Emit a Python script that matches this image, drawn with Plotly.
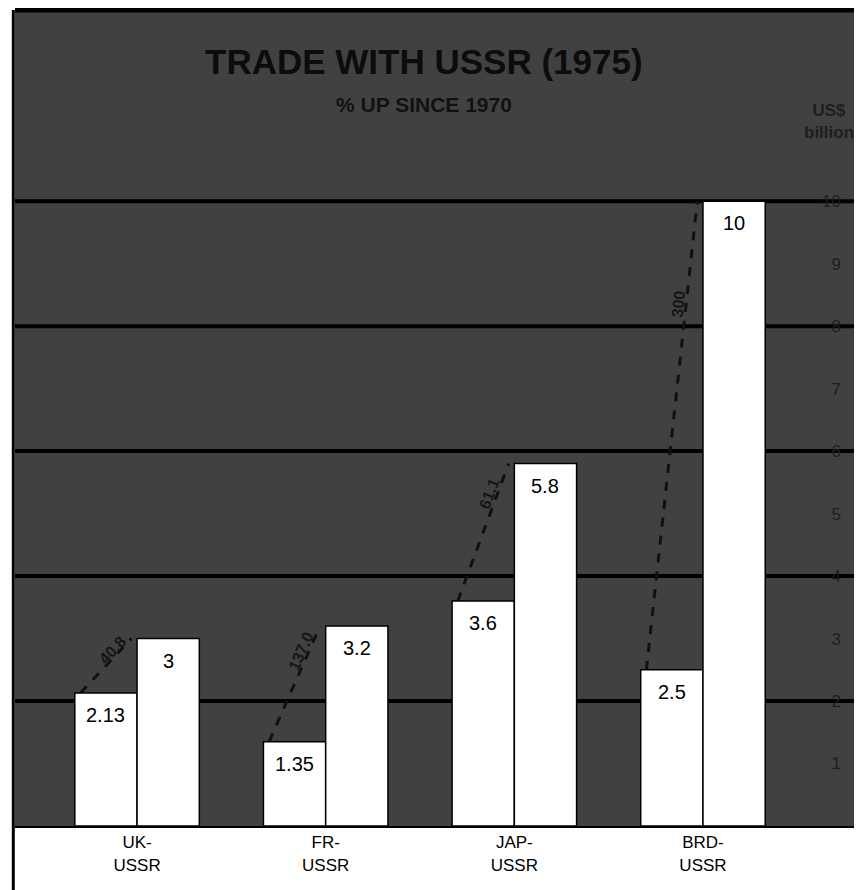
import math
import plotly.graph_objects as go

# ---- data ----
CATEGORIES = ["UK-<br>USSR", "FR-<br>USSR", "JAP-<br>USSR", "BRD-<br>USSR"]
TRADE_1970 = [2.13, 1.35, 3.6, 2.5]
TRADE_1975 = [3, 3.2, 5.8, 10]
LABELS_1970 = ["2.13", "1.35", "3.6", "2.5"]
LABELS_1975 = ["3", "3.2", "5.8", "10"]
PCT_LABELS = ["40.8", "137.0", "61.1", "300"]
Y_TICKS = [1, 2, 3, 4, 5, 6, 7, 8, 9, 10]
GRID_LINES = [2, 4, 6, 8, 10]

TITLE = "TRADE WITH USSR (1975)"
SUBTITLE = "% UP SINCE 1970"
UNIT = "US$<br>billion"

# ---- layout geometry (page is offset by the 8px body margin) ----
PAGE_W, PAGE_H = 862, 890
OFF = 8
W, H = PAGE_W - OFF, PAGE_H - OFF
PLOT_LEFT, PLOT_TOP, PLOT_BOTTOM = 15, 10, 826  # page pixels
ML, MT, MR = PLOT_LEFT - OFF, PLOT_TOP - OFF, 0
MB = H - (PLOT_BOTTOM - OFF)
PW, PH = W - ML - MR, H - MT - MB
X_RANGE = [-0.647, 3.843]
Y_RANGE = [0, 13.06]
BAR_W = 0.33
BG = "#414141"


def paper_x(px):
    return (px - PLOT_LEFT) / PW


def paper_y(py):
    return (PLOT_BOTTOM - py) / PH


idx = list(range(len(CATEGORIES)))
px_x = PW / (X_RANGE[1] - X_RANGE[0])
px_y = PH / (Y_RANGE[1] - Y_RANGE[0])

fig = go.Figure()
fig.add_trace(go.Bar(x=idx, y=TRADE_1970, width=BAR_W, offset=-BAR_W,
                     marker=dict(color="white", line=dict(color="black", width=1.5)),
                     hoverinfo="skip", showlegend=False))
fig.add_trace(go.Bar(x=idx, y=TRADE_1975, width=BAR_W, offset=0,
                     marker=dict(color="white", line=dict(color="black", width=1.5)),
                     hoverinfo="skip", showlegend=False))

shapes = []
annotations = []

# gridlines
for g in GRID_LINES:
    shapes.append(dict(type="line", xref="paper", x0=0, x1=1, yref="y", y0=g, y1=g,
                       line=dict(color="black", width=4), layer="below"))
# top border and left border
shapes.append(dict(type="line", xref="paper", x0=0, x1=1, yref="paper", y0=1, y1=1,
                   line=dict(color="black", width=5), layer="above"))
shapes.append(dict(type="line", xref="paper", x0=-0.002, x1=-0.002, yref="paper",
                   y0=-MB / PH, y1=1,
                   line=dict(color="black", width=3), layer="above"))

# value labels inside bars
for i in idx:
    annotations.append(dict(x=i - BAR_W / 2, y=TRADE_1970[i], xref="x", yref="y",
                            text=LABELS_1970[i], showarrow=False, yanchor="top", yshift=-9,
                            font=dict(family="Liberation Sans, Arial", size=20, color="black")))
    annotations.append(dict(x=i + BAR_W / 2, y=TRADE_1975[i], xref="x", yref="y",
                            text=LABELS_1975[i], showarrow=False, yanchor="top", yshift=-9,
                            font=dict(family="Liberation Sans, Arial", size=20, color="black")))

# dashed growth lines with rotated % labels
for i in idx:
    x0, y0 = i - BAR_W + 0.03, TRADE_1970[i]
    x1, y1 = i - 0.03, TRADE_1975[i]
    shapes.append(dict(type="line", xref="x", yref="y", x0=x0, y0=y0, x1=x1, y1=y1,
                       line=dict(color="#111111", width=3, dash="dash"), layer="below"))
    dx = (x1 - x0) * px_x
    dy = (y1 - y0) * px_y
    ang = -math.degrees(math.atan2(dy, dx))
    t = 0.78
    annotations.append(dict(x=x0 + t * (x1 - x0), y=y0 + t * (y1 - y0), xref="x", yref="y",
                            text=PCT_LABELS[i], showarrow=False, textangle=ang,
                            xshift=-8,
                            font=dict(family="Liberation Sans, Arial",
                                      size=16, color="#161616", weight="bold")))

# title, subtitle and unit
annotations.append(dict(x=paper_x(424), y=paper_y(61), xref="paper", yref="paper",
                        text=TITLE, showarrow=False, xanchor="center", yanchor="middle",
                        font=dict(family="Liberation Sans, Arial",
                                  size=35, color="#0c0c0c", weight="bold")))
annotations.append(dict(x=paper_x(424), y=paper_y(104), xref="paper", yref="paper",
                        text=SUBTITLE, showarrow=False, xanchor="center", yanchor="middle",
                        font=dict(family="Liberation Sans, Arial", size=21, color="#111111",
                                  weight="bold")))
annotations.append(dict(x=1.0, y=paper_y(122), xref="paper", yref="paper",
                        text=UNIT, showarrow=False, xanchor="right", yanchor="middle",
                        align="center", xshift=-6,
                        font=dict(family="Liberation Sans, Arial", size=17, color="#1e1e1e",
                                  weight="bold")))

fig.update_layout(
    width=W, height=H,
    margin=dict(l=ML, r=MR, t=MT, b=MB),
    paper_bgcolor="white",
    plot_bgcolor=BG,
    barmode="overlay",
    xaxis=dict(range=X_RANGE, tickvals=idx, ticktext=CATEGORIES, showgrid=False,
               zeroline=False, showline=True, linecolor="black", linewidth=2,
               ticks="", tickfont=dict(family="Liberation Sans, Arial", size=17, color="black"),
               fixedrange=True),
    yaxis=dict(range=Y_RANGE, side="right", tickvals=Y_TICKS, showgrid=False,
               zeroline=False, showline=False, ticks="", ticklabelposition="inside",
               ticklabelstandoff=18,
               tickfont=dict(family="Liberation Sans, Arial", size=17, color="#1e1e1e"),
               fixedrange=True),
    shapes=shapes,
    annotations=annotations,
)

fig.write_html("out.html")
